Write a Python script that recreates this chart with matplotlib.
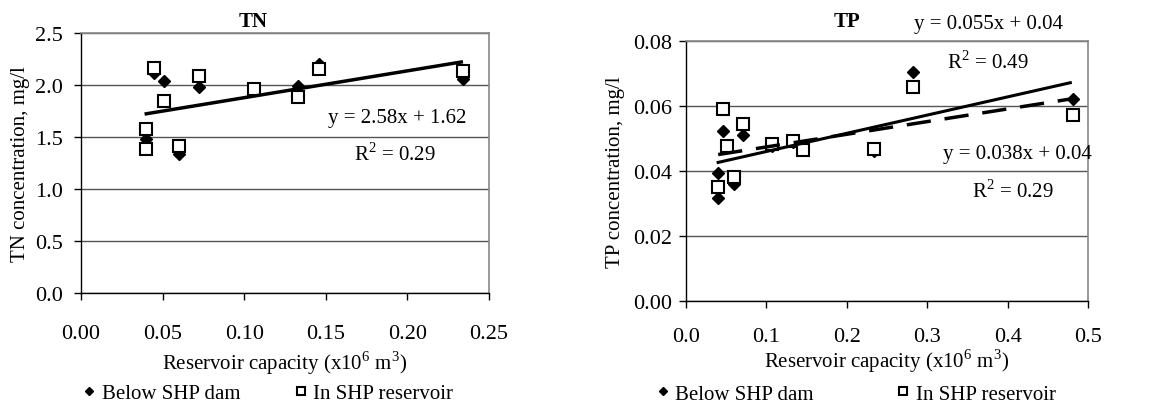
import matplotlib
matplotlib.use("Agg")
import matplotlib.pyplot as plt
import numpy as np

plt.rcParams['font.family'] = ['Liberation Serif', 'DejaVu Serif']
plt.rcParams['mathtext.fontset'] = 'custom'
plt.rcParams['mathtext.rm'] = 'Liberation Serif'

# ---------------- TN data ----------------
tn_dam_x = [0.045, 0.051, 0.040, 0.060, 0.072, 0.106, 0.133, 0.146, 0.234]
tn_dam_y = [2.12, 2.04, 1.48, 1.34, 1.98, 1.95, 1.99, 2.20, 2.06]
tn_res_x = [0.045, 0.051, 0.040, 0.040, 0.060, 0.072, 0.106, 0.133, 0.146, 0.234]
tn_res_y = [2.16, 1.85, 1.58, 1.38, 1.41, 2.09, 1.96, 1.88, 2.15, 2.13]
tn_fit = (2.58, 1.62)          # slope, intercept
tn_fit_range = (0.040, 0.233)

# ---------------- TP data ----------------
tp_dam_x = [0.046, 0.040, 0.040, 0.060, 0.071, 0.051, 0.107, 0.133, 0.146, 0.234, 0.282, 0.481]
tp_dam_y = [0.0523, 0.0395, 0.0317, 0.0359, 0.0512, 0.0476, 0.0478, 0.0490, 0.0466, 0.0462, 0.0705, 0.0623]
tp_res_x = [0.046, 0.051, 0.040, 0.060, 0.071, 0.107, 0.133, 0.146, 0.234, 0.282, 0.481]
tp_res_y = [0.0590, 0.0476, 0.0351, 0.0382, 0.0546, 0.0482, 0.0492, 0.0464, 0.0467, 0.0658, 0.0573]
tp_fit_solid = (0.056, 0.0404)
tp_fit_dashed = (0.039, 0.0435)
tp_fit_range = (0.040, 0.478)

W, H = 1160, 406
fig = plt.figure(figsize=(W / 100, H / 100), dpi=100)

FS = 15
TFS = 16
GRID = '#555555'


def style_axes(ax):
    ax.set_facecolor('white')
    for s in ('top', 'right'):
        ax.spines[s].set_color('#888888')
        ax.spines[s].set_linewidth(1.2)
    for s in ('left', 'bottom'):
        ax.spines[s].set_color('black')
        ax.spines[s].set_linewidth(1.0)
    ax.yaxis.grid(True, color=GRID, linewidth=1.0)
    ax.set_axisbelow(True)
    ax.tick_params(axis='both', labelsize=TFS, direction='out', length=5, width=1, color='black')


def fig_axes(l, t, r, b):
    return fig.add_axes([l / W, 1 - b / H, (r - l) / W, (b - t) / H])


# ---------------- TN panel ----------------
ax1 = fig_axes(81, 34, 489, 294)
style_axes(ax1)
ax1.set_xlim(0, 0.25)
ax1.set_ylim(0, 2.5)
ax1.set_xticks(np.arange(0, 0.2501, 0.05))
ax1.set_xticklabels([f"{v:.2f}" for v in np.arange(0, 0.2501, 0.05)])
ax1.set_yticks(np.arange(0, 2.501, 0.5))
ax1.set_yticklabels([f"{v:.1f}" for v in np.arange(0, 2.501, 0.5)])
ax1.tick_params(axis='x', pad=17)
ax1.tick_params(axis='y', pad=8)
ax1.plot(tn_dam_x, tn_dam_y, 'D', color='black', markersize=6, linestyle='none', label='Below SHP dam')
ax1.plot(tn_res_x, tn_res_y, 's', mfc='white', mec='black', mew=1.5, markersize=8.5, linestyle='none',
         label='In SHP reservoir')
xs = np.array(tn_fit_range)
ax1.plot(xs, tn_fit[0] * xs + tn_fit[1], color='black', linewidth=2.5)
ax1.set_xlabel('Reservoir capacity (x10$^6$ m$^3$)', fontsize=FS, labelpad=4)
ax1.set_ylabel('TN concentration, mg/l', fontsize=FS, labelpad=4)
fig.text(253 / W, 1 - 22 / H, 'TN', fontsize=FS, fontweight='bold', ha='center', va='center')
fig.text(397 / W, 1 - 118 / H, 'y = 2.58x + 1.62', fontsize=FS, ha='center', va='center')
fig.text(395 / W, 1 - 155 / H, 'R$^2$ = 0.29', fontsize=FS, ha='center', va='center')
leg1 = ax1.legend(loc='center', bbox_to_anchor=(268 / W, 1 - 394 / H), bbox_transform=fig.transFigure,
                  ncol=2, frameon=False, fontsize=FS, handlelength=0.6, handletextpad=0.3,
                  columnspacing=2.6, markerscale=0.75, borderpad=0)

# ---------------- TP panel ----------------
ax2 = fig_axes(686, 42, 1088, 302)
style_axes(ax2)
ax2.set_xlim(0, 0.5)
ax2.set_ylim(0, 0.08)
ax2.set_xticks(np.arange(0, 0.501, 0.1))
ax2.set_xticklabels([f"{v:.1f}" for v in np.arange(0, 0.501, 0.1)])
ax2.set_yticks(np.arange(0, 0.0801, 0.02))
ax2.set_yticklabels([f"{v:.2f}" for v in np.arange(0, 0.0801, 0.02)])
ax2.tick_params(axis='x', pad=14)
ax2.tick_params(axis='y', pad=5)
ax2.plot(tp_dam_x, tp_dam_y, 'D', color='black', markersize=6, linestyle='none', label='Below SHP dam')
ax2.plot(tp_res_x, tp_res_y, 's', mfc='white', mec='black', mew=1.5, markersize=8.5, linestyle='none',
         label='In SHP reservoir')
xs = np.array(tp_fit_range)
ax2.plot(xs, tp_fit_solid[0] * xs + tp_fit_solid[1], color='black', linewidth=2.2)
ax2.plot(xs, tp_fit_dashed[0] * xs + tp_fit_dashed[1], color='black', linewidth=2.5, dashes=(7, 4))
ax2.set_xlabel('Reservoir capacity (x10$^6$ m$^3$)', fontsize=FS, labelpad=0)
ax2.set_ylabel('TP concentration, mg/l', fontsize=FS, labelpad=6)
fig.text(847 / W, 1 - 22 / H, 'TP', fontsize=FS, fontweight='bold', ha='center', va='center')
fig.text(988 / W, 1 - 24 / H, 'y = 0.055x + 0.04', fontsize=FS, ha='center', va='center')
fig.text(988 / W, 1 - 62 / H, 'R$^2$ = 0.49', fontsize=FS, ha='center', va='center')
fig.text(1017 / W, 1 - 155 / H, 'y = 0.038x + 0.04', fontsize=FS, ha='center', va='center')
fig.text(1013 / W, 1 - 192 / H, 'R$^2$ = 0.29', fontsize=FS, ha='center', va='center')
leg2 = ax2.legend(loc='center', bbox_to_anchor=(856 / W, 1 - 395 / H), bbox_transform=fig.transFigure,
                  ncol=2, frameon=False, fontsize=FS, handlelength=0.6, handletextpad=0.3,
                  columnspacing=4.0, markerscale=0.75, borderpad=0)

fig.savefig('out.png', dpi=100, facecolor='white')
